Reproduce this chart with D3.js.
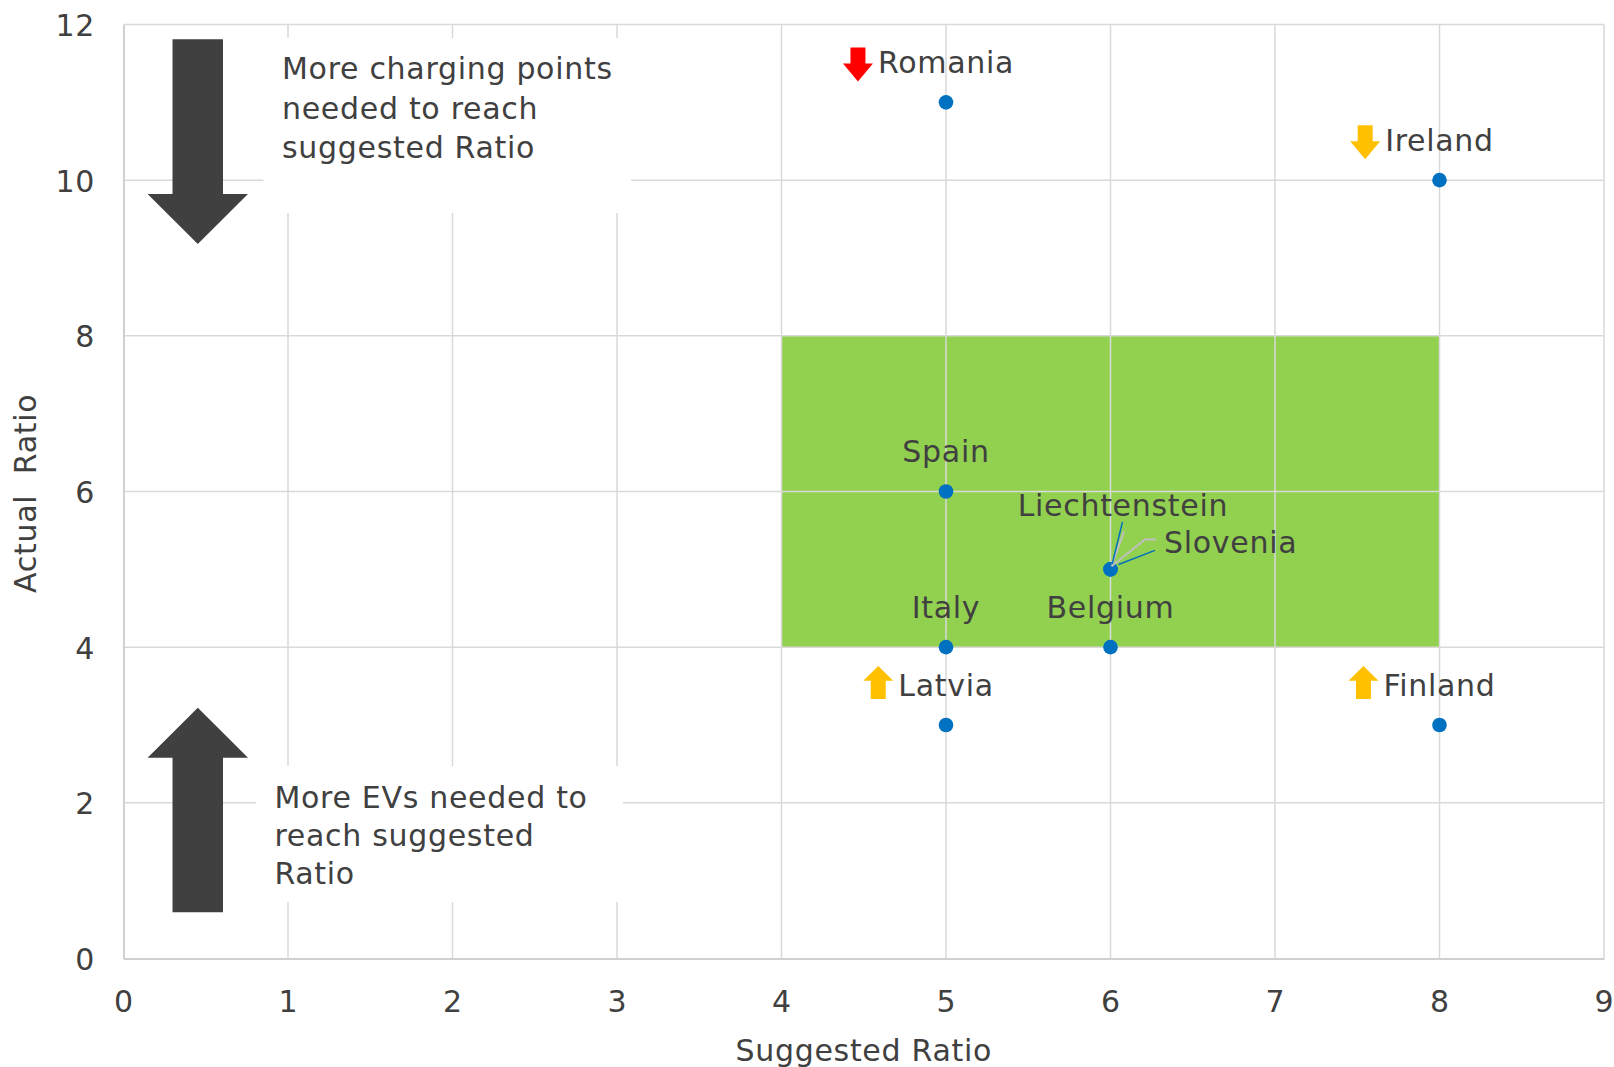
<!DOCTYPE html>
<html>
<head>
<meta charset="utf-8">
<script src="https://cdn.jsdelivr.net/npm/d3@7"></script>
<style>
  html, body { margin: 0; padding: 0; background: #ffffff; }
  svg text { font-family: "DejaVu Sans", Verdana, sans-serif; fill: #404040; letter-spacing: 0.7px; }
</style>
</head>
<body>
<svg id="chart" width="1614" height="1067"></svg>
<script>
// ---- data ----
const countries      = ["Romania", "Ireland", "Spain", "Liechtenstein", "Slovenia", "Italy", "Belgium", "Latvia", "Finland"];
const suggestedRatio = [5, 8, 5, 6, 6, 5, 6, 5, 8];
const actualRatio    = [11, 10, 6, 5, 5, 4, 4, 3, 3];
// direction of change flagged next to a country's label
const trendMarks     = ["down-red", "down-amber", "", "", "", "", "", "up-amber", "up-amber"];

const xTickValues = [0, 1, 2, 3, 4, 5, 6, 7, 8, 9];
const yTickValues = [0, 2, 4, 6, 8, 10, 12];

// target range: suggested ratio 4-8, actual ratio 4-8
const targetSuggested = [4, 8];
const targetActual    = [4, 8];

const noteTop    = ["More charging points", "needed to reach", "suggested Ratio"];
const noteBottom = ["More EVs needed to", "reach suggested", "Ratio"];

const xTitle = "Suggested Ratio";
const yTitle = "Actual  Ratio";

// ---- layout ----
const plot = { left: 123.5, right: 1604, top: 24.5, bottom: 958.5 };
const FONT = 30;
const colors = {
  text: "#404040", grid: "#d9d9d9", axis: "#d0d0d0", band: "#92D050",
  point: "#0070C0", leader: "#bfbfbf", bigArrow: "#404040",
  red: "#FF0000", amber: "#FFC000"
};

const svg = d3.select("#chart");

const x = d3.scaleLinear().domain([0, 9]).range([plot.left, plot.right]);
const y = d3.scaleLinear().domain([0, 12]).range([plot.bottom, plot.top]);

const points = countries.map((name, i) => ({
  name, sx: suggestedRatio[i], ay: actualRatio[i], trend: trendMarks[i]
}));

// target band
svg.append("rect")
  .attr("x", x(targetSuggested[0]))
  .attr("y", y(targetActual[1]))
  .attr("width", x(targetSuggested[1]) - x(targetSuggested[0]))
  .attr("height", y(targetActual[0]) - y(targetActual[1]))
  .attr("fill", colors.band);

// gridlines
const grid = svg.append("g").attr("stroke", colors.grid).attr("stroke-width", 1.5);
grid.selectAll("line.v").data(xTickValues.filter(v => v > 0)).join("line")
  .attr("class", "v")
  .attr("x1", d => x(d)).attr("x2", d => x(d))
  .attr("y1", plot.top).attr("y2", plot.bottom);
grid.selectAll("line.h").data(yTickValues.filter(v => v > 0)).join("line")
  .attr("class", "h")
  .attr("x1", plot.left).attr("x2", plot.right)
  .attr("y1", d => y(d)).attr("y2", d => y(d));

// axes
const xAxis = svg.append("g")
  .attr("transform", `translate(0,${plot.bottom})`)
  .call(d3.axisBottom(x).tickValues(xTickValues).tickSize(0).tickPadding(32).tickFormat(d3.format("d")));
const yAxis = svg.append("g")
  .attr("transform", `translate(${plot.left},0)`)
  .call(d3.axisLeft(y).tickValues(yTickValues).tickSize(0).tickPadding(28.5).tickFormat(d3.format("d")));
[xAxis, yAxis].forEach(a => {
  a.select(".domain").attr("stroke", colors.axis).attr("stroke-width", 2);
  a.selectAll("text")
    .attr("fill", colors.text)
    .style("font-size", FONT + "px")
    .attr("font-family", null);
});
yAxis.selectAll("text").attr("dy", "0.37em");

// axis titles
svg.append("text")
  .attr("x", (plot.left + plot.right) / 2)
  .attr("y", 1061)
  .attr("text-anchor", "middle")
  .style("font-size", FONT + "px")
  .text(xTitle);
svg.append("text")
  .attr("transform", `translate(36,493.3) rotate(-90)`)
  .attr("text-anchor", "middle")
  .style("font-size", FONT + "px")
  .style("white-space", "pre")
  .text(yTitle);

// note boxes (white backgrounds hide the gridlines behind the text)
const notes = [
  { lines: noteTop,    box: [263.5, 38, 631, 213],  tx: 282,   ty: 79.3,  lh: 39.5 },
  { lines: noteBottom, box: [256, 766, 623, 902],   tx: 274.4, ty: 807.7, lh: 38.3 }
];
notes.forEach(n => {
  svg.append("rect")
    .attr("x", n.box[0]).attr("y", n.box[1])
    .attr("width", n.box[2] - n.box[0]).attr("height", n.box[3] - n.box[1])
    .attr("fill", "#ffffff");
  const t = svg.append("text").style("font-size", FONT + "px");
  n.lines.forEach((line, i) => {
    t.append("tspan").attr("x", n.tx).attr("y", n.ty + i * n.lh).text(line);
  });
});

// big direction arrows
const bigArrows = [
  // pointing down
  `M172.5,39.3 H223 V194 H248 L197.8,244 L147.6,194 H172.5 Z`,
  // pointing up
  `M197.8,707.7 L248,757.7 H223 V912.3 H172.5 V757.7 H147.6 Z`
];
svg.selectAll("path.big").data(bigArrows).join("path")
  .attr("class", "big")
  .attr("d", d => d)
  .attr("fill", colors.bigArrow);

// data points
svg.append("g").selectAll("circle").data(points).join("circle")
  .attr("cx", d => x(d.sx))
  .attr("cy", d => y(d.ay))
  .attr("r", 7.3)
  .attr("fill", colors.point);

// labels: centred above the point, except the two overlapping ones with leader lines
const labelOffsets = {
  "Liechtenstein": { dx: 12.4, dy: -53.6, anchor: "middle" },
  "Slovenia":      { dx: 53.5, dy: -16.6, anchor: "start" }
};
const leaders = {
  "Liechtenstein": {
    blue: [[1, -2.5], [12, -47.5]],
    gray: [[1, -3], [13.5, -38]]
  },
  "Slovenia": {
    blue: [[8, -4.8], [44.5, -19]],
    gray: [[1, -3], [34.5, -29.8], [45.5, -29.8]]
  }
};

const line = d3.line();
Object.entries(leaders).forEach(([name, l]) => {
  const p = points.find(d => d.name === name);
  const px = x(p.sx), py = y(p.ay);
  svg.append("path")
    .attr("d", line(l.gray.map(([dx, dy]) => [px + dx, py + dy])))
    .attr("fill", "none").attr("stroke", colors.leader).attr("stroke-width", 2);
  svg.append("path")
    .attr("d", line(l.blue.map(([dx, dy]) => [px + dx, py + dy])))
    .attr("fill", "none").attr("stroke", colors.point).attr("stroke-width", 1.5);
});

function drawTrendIcon(g, right, baseline, kind) {
  const w = 30;
  const l = right - w;
  const down = kind.startsWith("down");
  const fill = kind.endsWith("red") ? colors.red : colors.amber;
  let d;
  if (down) {
    const top = baseline - 25.4, h = 34, hs = top + h * 0.47;
    d = `M${l + 7.5},${top} H${l + 22.5} V${hs} H${l + w} L${l + w / 2},${top + h} L${l},${hs} H${l + 7.5} Z`;
  } else {
    const top = baseline - 29.6, h = 33, hs = top + h * 0.45;
    d = `M${l + w / 2},${top} L${l + w},${hs} H${l + 22.5} V${top + h} H${l + 7.5} V${hs} H${l} Z`;
  }
  g.append("path").attr("d", d).attr("fill", fill);
}

const labels = svg.append("g");
points.forEach(p => {
  const px = x(p.sx), py = y(p.ay);
  const off = labelOffsets[p.name] || { dx: 0, dy: -29.5, anchor: "middle" };
  const t = labels.append("text")
    .attr("x", px + off.dx)
    .attr("y", py + off.dy)
    .attr("text-anchor", off.anchor)
    .style("font-size", FONT + "px")
    .text(p.name);
  if (p.trend) {
    const len = t.node().getComputedTextLength();
    const start = off.anchor === "middle" ? px + off.dx - len / 2 : px + off.dx;
    drawTrendIcon(labels, start - 5, py + off.dy, p.trend);
  }
});
</script>
</body>
</html>
